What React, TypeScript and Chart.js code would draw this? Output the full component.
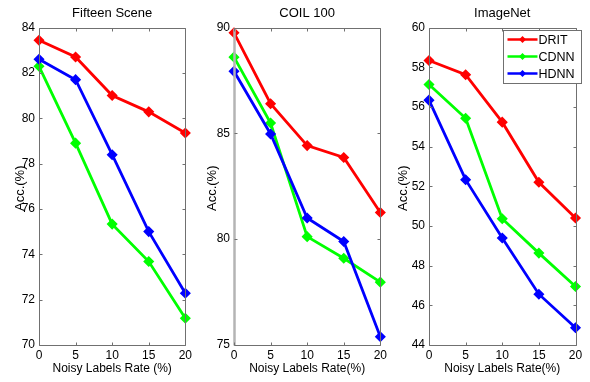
import { useEffect, useRef } from 'react';
import { Chart, registerables } from 'chart.js';

Chart.register(...registerables);

const X_VALUES = [0, 5, 10, 15, 20];
const SERIES_NAMES = ['DRIT', 'CDNN', 'HDNN'];

const FIFTEEN_DRIT = [83.44, 82.7, 81.0, 80.28, 79.35];
const FIFTEEN_CDNN = [82.29, 78.9, 75.33, 73.68, 71.18];
const FIFTEEN_HDNN = [82.6, 81.7, 78.39, 75.0, 72.28];

const COIL_DRIT = [89.75, 86.4, 84.42, 83.86, 81.26];
const COIL_CDNN = [88.6, 85.49, 80.12, 79.1, 77.97];
const COIL_HDNN = [87.93, 84.97, 81.0, 79.89, 75.39];

const IMAGENET_DRIT = [58.34, 57.62, 55.23, 52.2, 50.4];
const IMAGENET_CDNN = [57.13, 55.43, 50.36, 48.63, 46.95];
const IMAGENET_HDNN = [56.34, 52.33, 49.39, 46.56, 44.87];

const FONT = '"Liberation Sans", Arial, sans-serif';
const COLORS = ['#ff0000', '#00ff00', '#0000ff'];

const framePlugin = {
  id: 'frame',
  afterDraw(chart: any, _args: any, opts: any) {
    const ctx = chart.ctx;
    const ca = chart.chartArea;
    const xs = chart.scales.x;
    const ys = chart.scales.y;
    const L = Math.round(ca.left) + 0.5;
    const R = Math.round(ca.right) + 0.5;
    const T = Math.round(ca.top) + 0.5;
    const B = Math.round(ca.bottom) + 0.5;
    ctx.save();
    ctx.strokeStyle = '#707070';
    ctx.lineWidth = 1;
    ctx.beginPath();
    ctx.moveTo(L, T); ctx.lineTo(R, T); ctx.lineTo(R, B); ctx.lineTo(L, B);
    if (!opts.thickLeft) ctx.lineTo(L, T);
    ctx.stroke();
    if (opts.thickLeft) {
      ctx.strokeStyle = '#b4b4b4';
      ctx.lineWidth = 2.5;
      ctx.beginPath(); ctx.moveTo(L, T); ctx.lineTo(L, B); ctx.stroke();
    }
    ctx.strokeStyle = '#707070';
    ctx.lineWidth = 1;
    const tl = 3;
    ctx.beginPath();
    xs.ticks.forEach((t: any) => {
      const px = Math.round(xs.getPixelForValue(t.value)) + 0.5;
      ctx.moveTo(px, B); ctx.lineTo(px, B - tl);
      ctx.moveTo(px, T); ctx.lineTo(px, T + tl);
    });
    ys.ticks.forEach((t: any) => {
      const py = Math.round(ys.getPixelForValue(t.value)) + 0.5;
      ctx.moveTo(L, py); ctx.lineTo(L + tl, py);
      ctx.moveTo(R, py); ctx.lineTo(R - tl, py);
    });
    ctx.stroke();

    ctx.fillStyle = '#000';
    ctx.textAlign = 'center';
    ctx.textBaseline = 'middle';
    const cx = (ca.left + ca.right) / 2;
    ctx.font = `13px ${FONT}`;
    ctx.fillText(opts.title, cx, 13);
    ctx.font = `12px ${FONT}`;
    ctx.fillText(opts.xTitle, cx, 369);
    ctx.save();
    ctx.translate(opts.yTitleX, (ca.top + ca.bottom) / 2 + 2);
    ctx.rotate(-Math.PI / 2);
    ctx.font = `13px ${FONT}`;
    ctx.fillText('Acc.(%)', 0, 0);
    ctx.restore();

    if (opts.legend) {
      const bx = Math.round(ca.right) - 73 + 0.5;
      const by = 30.5;
      const bw = 78;
      const bh = 53;
      ctx.fillStyle = '#fff';
      ctx.fillRect(bx, by, bw, bh);
      ctx.strokeStyle = '#707070';
      ctx.strokeRect(bx, by, bw, bh);
      ctx.textAlign = 'left';
      ctx.font = `12.5px ${FONT}`;
      chart.data.datasets.slice().sort((a: any, b: any) => b.order - a.order).forEach((ds: any, i: number) => {
        const y = by + 9 + i * 17;
        ctx.strokeStyle = ds.borderColor;
        ctx.lineWidth = 2.5;
        ctx.beginPath();
        ctx.moveTo(bx + 4, y); ctx.lineTo(bx + 34, y);
        ctx.stroke();
        ctx.fillStyle = ds.borderColor;
        ctx.beginPath();
        ctx.moveTo(bx + 19, y - 3.5); ctx.lineTo(bx + 22.5, y); ctx.lineTo(bx + 19, y + 3.5); ctx.lineTo(bx + 15.5, y);
        ctx.closePath();
        ctx.fill();
        ctx.fillStyle = '#000';
        ctx.fillText(ds.label, bx + 35, y + 1);
      });
    }
    ctx.restore();
  },
};

type PanelCfg = {
  left: number;
  width: number;
  title: string;
  xTitle: string;
  yTitleX: number;
  yMin: number;
  yMax: number;
  yStep: number;
  series: number[][];
  legend: boolean;
  thickLeft: boolean;
};

const PANELS: PanelCfg[] = [
  { left: 0, width: 195, title: 'Fifteen Scene', xTitle: 'Noisy Labels Rate (%)', yTitleX: 20, yMin: 70, yMax: 84, yStep: 2, series: [FIFTEEN_DRIT, FIFTEEN_CDNN, FIFTEEN_HDNN], legend: false, thickLeft: false },
  { left: 195, width: 195, title: 'COIL 100', xTitle: 'Noisy Labels Rate(%)', yTitleX: 17, yMin: 75, yMax: 90, yStep: 5, series: [COIL_DRIT, COIL_CDNN, COIL_HDNN], legend: false, thickLeft: true },
  { left: 390, width: 200, title: 'ImageNet', xTitle: 'Noisy Labels Rate(%)', yTitleX: 13, yMin: 44, yMax: 60, yStep: 2, series: [IMAGENET_DRIT, IMAGENET_CDNN, IMAGENET_HDNN], legend: true, thickLeft: false },
];

function Panel({ cfg }: { cfg: PanelCfg }) {
  const ref = useRef<HTMLCanvasElement>(null);
  useEffect(() => {
    const chart = new Chart(ref.current as HTMLCanvasElement, {
      type: 'line',
      data: {
        datasets: cfg.series.map((vals, i) => ({
          label: SERIES_NAMES[i],
          data: X_VALUES.map((x, j) => ({ x, y: vals[j] })),
          borderColor: COLORS[i],
          backgroundColor: COLORS[i],
          borderWidth: 2.8,
          pointStyle: 'rectRot',
          pointRadius: 4.5,
          pointBorderWidth: 1.5,
          tension: 0,
          clip: false,
          order: 2 - i,
        })),
      },
      options: {
        responsive: false,
        devicePixelRatio: 1,
        animation: false,
        layout: { padding: { top: 27.5, right: cfg.width - 185.5, left: 0, bottom: 0 } },
        plugins: {
          legend: { display: false },
          tooltip: { enabled: false },
          frame: { title: cfg.title, xTitle: cfg.xTitle, yTitleX: cfg.yTitleX, legend: cfg.legend, thickLeft: cfg.thickLeft },
        } as any,
        scales: {
          x: {
            type: 'linear',
            min: 0,
            max: 20,
            ticks: { stepSize: 5, color: '#000', font: { family: FONT, size: 12 }, padding: 3, maxRotation: 0, autoSkip: false },
            grid: { display: false, drawTicks: false },
            border: { display: false },
            afterFit: (s: any) => { s.height = 37; },
          },
          y: {
            type: 'linear',
            min: cfg.yMin,
            max: cfg.yMax,
            ticks: { stepSize: cfg.yStep, color: '#000', font: { family: FONT, size: 12 }, padding: 4 },
            grid: { display: false, drawTicks: false },
            border: { display: false },
            afterFit: (s: any) => { s.width = 39; },
          },
        },
      },
      plugins: [framePlugin],
    });
    return () => chart.destroy();
  }, []);
  return (
    <canvas
      ref={ref}
      width={cfg.width}
      height={382}
      style={{ position: 'absolute', left: cfg.left, top: 0, width: cfg.width, height: 382 }}
    />
  );
}

export default function App() {
  return (
    <div style={{ position: 'fixed', left: 0, top: 0, width: 590, height: 382, background: '#fff', overflow: 'hidden' }}>
      {PANELS.map((p) => (
        <Panel key={p.title} cfg={p} />
      ))}
    </div>
  );
}
